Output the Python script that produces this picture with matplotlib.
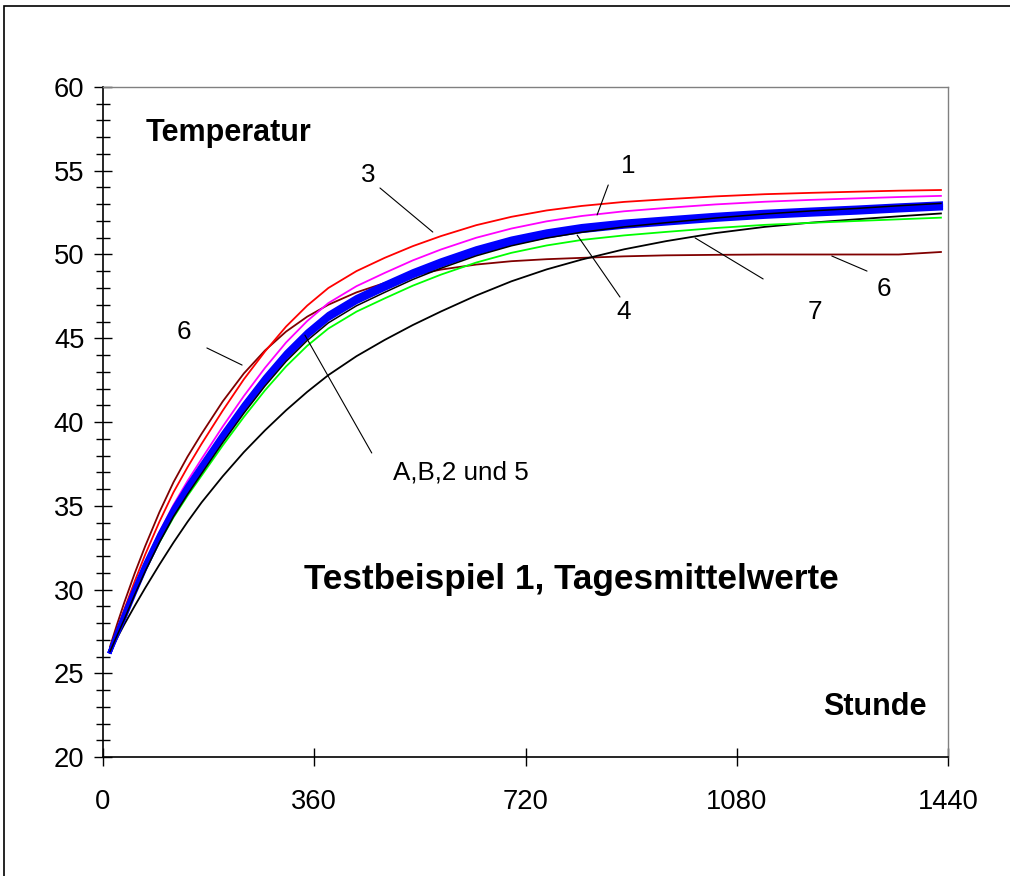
import matplotlib
matplotlib.use("Agg")
import matplotlib.pyplot as plt
from matplotlib.patches import Rectangle
from matplotlib.ticker import MultipleLocator

plt.rcParams['font.family'] = ['Liberation Sans', 'DejaVu Sans']

# daily mean temperatures
hours = [12, 24, 36, 54, 72, 96, 120, 144, 168, 204, 240, 276, 312, 348, 384, 432,
         480, 528, 576, 636, 696, 756, 816, 888, 960, 1044, 1128, 1206, 1284, 1356, 1428]

curve_A = [26.3, 27.46, 28.55, 30.09, 31.55, 33.29, 34.85, 36.2, 37.45, 39.3, 41.05, 42.68, 44.15, 45.4, 46.45, 47.46,
           48.25, 49.0, 49.65, 50.37, 50.95, 51.38, 51.7, 51.96, 52.15, 52.37, 52.55, 52.68, 52.8, 52.93, 53.05]
curve_5 = [26.3, 27.4, 28.45, 29.99, 31.45, 33.19, 34.75, 36.1, 37.35, 39.2, 40.95, 42.58, 44.05, 45.3, 46.35, 47.36,
           48.15, 48.9, 49.55, 50.27, 50.85, 51.28, 51.6, 51.86, 52.05, 52.27, 52.45, 52.58, 52.7, 52.83, 52.95]
curve_B = [26.3, 27.32, 28.35, 29.89, 31.35, 33.09, 34.65, 36.0, 37.25, 39.1, 40.85, 42.48, 43.95, 45.2, 46.25, 47.26,
           48.05, 48.8, 49.45, 50.17, 50.75, 51.18, 51.5, 51.76, 51.95, 52.17, 52.35, 52.48, 52.6, 52.73, 52.85]
curve_2 = [26.3, 27.26, 28.25, 29.79, 31.25, 32.99, 34.55, 35.9, 37.15, 39.0, 40.75, 42.38, 43.85, 45.1, 46.15, 47.16,
           47.95, 48.7, 49.35, 50.07, 50.65, 51.08, 51.4, 51.66, 51.85, 52.07, 52.25, 52.38, 52.5, 52.63, 52.75]
curve_1 = [26.3, 27.41, 28.5, 30.09, 31.6, 33.42, 35.05, 36.48, 37.8, 39.73, 41.55, 43.23, 44.75, 46.03, 47.1, 48.11,
           48.9, 49.65, 50.3, 51.0, 51.55, 51.98, 52.3, 52.58, 52.78, 52.99, 53.15, 53.26, 53.35, 53.43, 53.5]
curve_3 = [26.4, 27.61, 28.8, 30.49, 32.1, 34.04, 35.8, 37.3, 38.7, 40.68, 42.55, 44.21, 45.7, 46.95, 48.0, 49.01,
           49.8, 50.5, 51.1, 51.75, 52.25, 52.63, 52.9, 53.14, 53.3, 53.47, 53.6, 53.68, 53.75, 53.81, 53.85]
curve_4 = [26.3, 27.26, 28.2, 29.69, 31.1, 32.81, 34.35, 35.68, 36.92, 38.77, 40.52, 42.15, 43.62, 44.87, 45.92, 46.94,
           47.74, 48.51, 49.18, 49.92, 50.52, 50.98, 51.33, 51.65, 51.9, 52.18, 52.42, 52.6, 52.75, 52.91, 53.05]
curve_6 = [26.6, 27.93, 29.2, 30.97, 32.6, 34.61, 36.4, 37.93, 39.3, 41.23, 42.9, 44.27, 45.4, 46.29, 47.0, 47.74,
           48.3, 48.75, 49.1, 49.4, 49.6, 49.72, 49.8, 49.89, 49.95, 49.98, 50.0, 50.0, 50.0, 50.0, 50.15]
curve_7 = [26.3, 27.11, 27.9, 29.02, 30.1, 31.48, 32.8, 34.04, 35.2, 36.76, 38.2, 39.5, 40.7, 41.8, 42.8, 43.93,
           44.9, 45.79, 46.6, 47.55, 48.4, 49.11, 49.7, 50.31, 50.8, 51.28, 51.65, 51.9, 52.1, 52.28, 52.45]
curve_gr = [26.3, 27.31, 28.3, 29.76, 31.15, 32.81, 34.3, 35.6, 36.8, 38.6, 40.3, 41.89, 43.32, 44.55, 45.58, 46.59,
            47.38, 48.14, 48.8, 49.52, 50.1, 50.54, 50.87, 51.14, 51.35, 51.58, 51.77, 51.89, 52.0, 52.1, 52.2]

# label text, label position, leader start, leader end (data coords)
labels = [
    ("3", (452, 54.75), (472, 53.97), (562, 51.34)),
    ("1", (895, 55.28), (861, 54.15), (842, 52.36)),
    ("4", (888, 46.57), (881, 47.46), (808, 51.16)),
    ("7", (1213, 46.57), (1125, 48.54), (1009, 50.99)),
    ("6", (1331, 47.94), (1302, 49.01), (1242, 49.91)),
    ("6", (138, 45.37), (177, 44.42), (237, 43.40)),
]

fig = plt.figure(figsize=(10.1, 8.76), dpi=100)
fig.patches.append(Rectangle((4 / 1010, -0.5), 1.5, 0.5 + 1 - 6 / 876,
                             transform=fig.transFigure, fill=False,
                             edgecolor='black', lw=1.2))
ax = fig.add_axes([0.102, 0.1358, 0.8366, 0.7649])

ax.plot(hours, curve_6, color='#800000', lw=1.3)
ax.plot(hours, curve_7, color='black', lw=1.3)
ax.plot(hours, curve_3, color='#ff0000', lw=1.3)
ax.plot(hours, curve_1, color='#ff00ff', lw=1.3)
ax.plot(hours, curve_gr, color='#00ff00', lw=1.3)
for c in (curve_A, curve_5, curve_B, curve_2):
    ax.plot(hours, c, color='#0000ff', lw=3)
ax.plot(hours, curve_4, color='black', lw=1.1)

ax.set_xlim(0, 1440)
ax.set_ylim(20, 60)
ax.set_xticks([0, 360, 720, 1080, 1440])
ax.yaxis.set_major_locator(MultipleLocator(5))
ax.yaxis.set_minor_locator(MultipleLocator(1))
ax.tick_params(axis='y', which='major', direction='inout', length=13, width=1,
               labelsize=19.7, pad=7)
ax.tick_params(axis='y', which='minor', direction='inout', length=9.5, width=1)
ax.tick_params(axis='x', which='major', direction='inout', length=13.5, width=1,
               labelsize=19.7, pad=16)

for s in ('left', 'bottom'):
    ax.spines[s].set_color('black')
    ax.spines[s].set_linewidth(1.2)
for s in ('top', 'right'):
    ax.spines[s].set_color('#808080')
    ax.spines[s].set_linewidth(1.0)

for txt, pos, p0, p1 in labels:
    ax.text(pos[0], pos[1], txt, fontsize=18.7, ha='center', va='center')
    ax.annotate('', xy=p1, xytext=p0,
                arrowprops=dict(arrowstyle='-', lw=0.8, color='black',
                                shrinkA=0, shrinkB=0))

ax.annotate('', xy=(344, 45.19), xytext=(458, 38.15),
            arrowprops=dict(arrowstyle='-', lw=0.8, color='black',
                            shrinkA=0, shrinkB=0))
ax.text(494, 36.96, "A,B,2 und 5", fontsize=18.7, ha='left', va='center')

ax.text(72, 57.25, "Temperatur", fontsize=22, fontweight='bold', ha='left', va='center')
ax.text(1404, 22.99, "Stunde", fontsize=22, fontweight='bold', ha='right', va='center')
ax.text(798, 30.57, "Testbeispiel 1, Tagesmittelwerte", fontsize=25.3,
        fontweight='bold', ha='center', va='center')

fig.savefig("out.png", dpi=100)
